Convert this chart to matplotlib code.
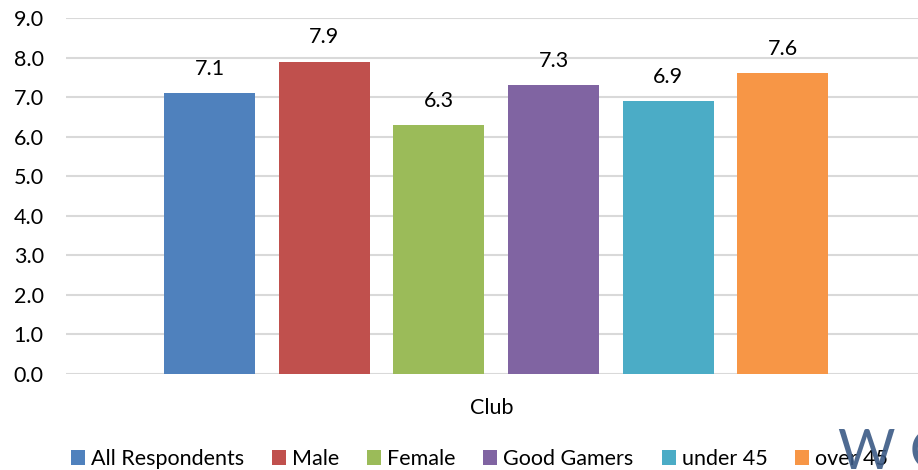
import matplotlib
matplotlib.use("Agg")
import matplotlib.pyplot as plt
import numpy as np

plt.rcParams['font.family'] = ['Lato', 'DejaVu Sans']

category = ["Club"]
series = ["All Respondents", "Male", "Female", "Good Gamers", "under 45", "over 45"]
values = [7.1, 7.9, 6.3, 7.3, 6.9, 7.6]
colors = ["#4f81bd", "#c0504d", "#9bbb59", "#8064a2", "#4bacc6", "#f79646"]
yticks = [0, 1, 2, 3, 4, 5, 6, 7, 8, 9]

FS = 15.5

fig = plt.figure(figsize=(9.18, 4.70), dpi=100)
ax = fig.add_axes([66/918, 1-374/470, 852/918, (374-18)/470])

step = 0.1346
width = 0.1068
n = len(series)
for i, (name, v, c) in enumerate(zip(series, values, colors)):
    x = 0.005 + (i - (n-1)/2) * step
    ax.bar(x, v, width=width, color=c, label=name, zorder=3)
    ax.text(x, v + 0.36, f"{v:.1f}", ha="center", va="bottom", fontsize=FS, color="#000000")

ax.set_xlim(-0.5, 0.5)
ax.set_ylim(0, 9)
ax.set_yticks(yticks)
ax.set_yticklabels([f"{t:.1f}" for t in yticks], fontsize=FS)
ax.set_xticks([0])
ax.set_xticklabels(category, fontsize=FS)
ax.tick_params(axis="x", length=0, pad=17)
ax.tick_params(axis="y", length=0, pad=16)
ax.grid(axis="y", color="#d9d9d9", linewidth=1.5, zorder=0)
for s in ax.spines.values():
    s.set_visible(False)

fig.legend(loc="center", bbox_to_anchor=(479.5/918, 1-459/470), ncol=6, frameon=False,
           fontsize=FS, handlelength=0.65, handleheight=0.65, handletextpad=0.28,
           columnspacing=1.3, borderaxespad=0, borderpad=0)

fig.text(838/918, -0.02, "W C", fontsize=40, color="#3b5a85", alpha=0.9,
         ha="left", va="bottom", zorder=10)

fig.savefig("out.png", dpi=100)
